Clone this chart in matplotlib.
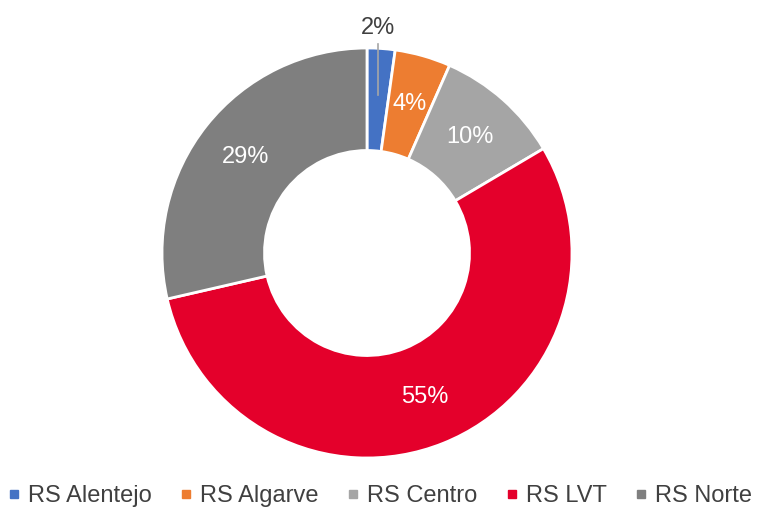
import matplotlib.pyplot as plt
from matplotlib.lines import Line2D
import numpy as np

# values (rounded labels: 2, 4, 10, 55, 29)
regions = ["RS Alentejo", "RS Algarve", "RS Centro", "RS LVT", "RS Norte"]
shares = [2.2, 4.4, 9.9, 54.9, 28.6]
colors = ["#4472C4", "#ED7D31", "#A5A5A5", "#E4002B", "#7F7F7F"]

plt.rcParams["font.family"] = ["Liberation Sans", "DejaVu Sans"]

fig = plt.figure(figsize=(7.59, 5.13), dpi=100)
# pie radius 1 -> about 205 px, centre at (367, 253) px from top-left
half = 1.1 * 205
ax = fig.add_axes([(367 - half) / 759, (513 - 253 - half) / 513, 2 * half / 759, 2 * half / 513])

wedges, texts, autotexts = ax.pie(
    shares, colors=colors, startangle=90, counterclock=False,
    autopct="%.0f%%", pctdistance=0.755,
    wedgeprops=dict(width=0.5, edgecolor="white", linewidth=2),
    textprops=dict(color="white", fontsize=17),
)
ax.set_xlim(-1.1, 1.1)
ax.set_ylim(-1.1, 1.1)
ax.set_aspect("equal")
ax.axis("off")

# smallest slice: label pulled outside with a leader line
w = wedges[0]
ang = np.deg2rad((w.theta1 + w.theta2) / 2)
x0 = 0.755 * np.cos(ang)
autotexts[0].set_position((x0, 1.1))
autotexts[0].set_color("#404040")
ax.plot([x0, x0], [1.02, 0.77], color="#A6A6A6", linewidth=1.2)

handles = [Line2D([], [], marker="s", linestyle="", color=c, markersize=6) for c in colors]
fig.legend(handles, regions, loc="lower center", bbox_to_anchor=(0.5, -0.03), ncol=5,
           frameon=False, fontsize=17, handlelength=0.6, handletextpad=0.3,
           columnspacing=1.15, labelcolor="#404040")

fig.savefig("out.png", dpi=100)
